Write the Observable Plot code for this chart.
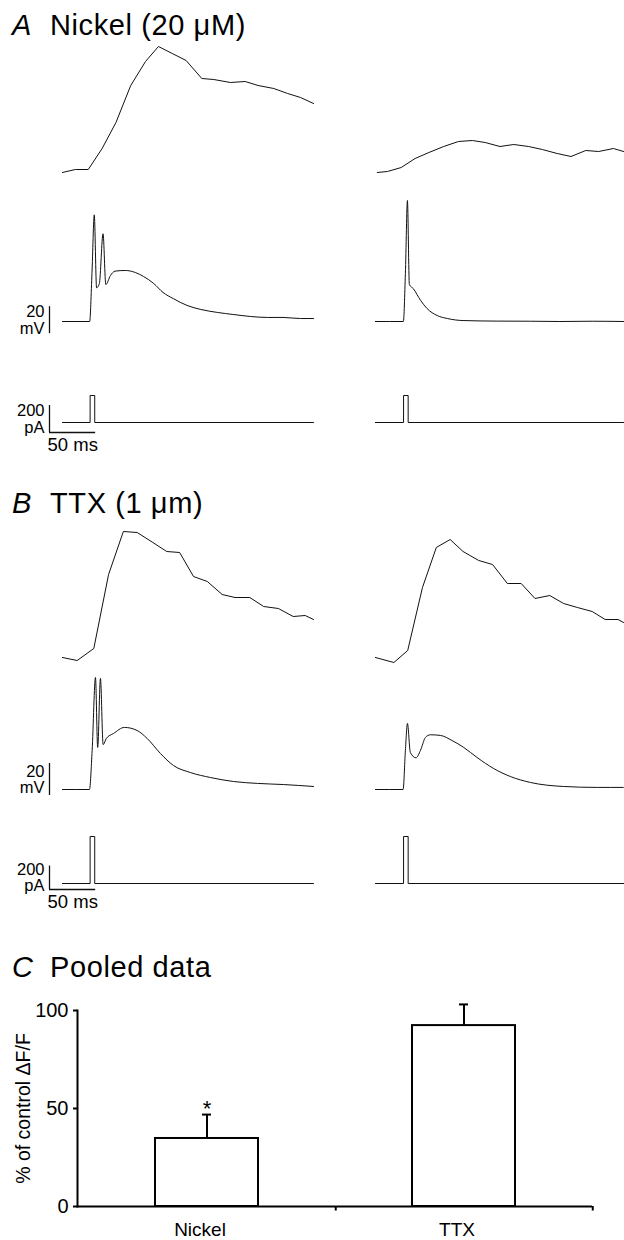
<!DOCTYPE html>
<html><head><meta charset="utf-8">
<script src="https://cdn.jsdelivr.net/npm/d3@7"></script>
<script src="https://cdn.jsdelivr.net/npm/@observablehq/plot@0.6"></script>
<style>
body{margin:0;background:#fff;}
#fig{position:relative;width:624px;height:1240px;overflow:hidden;font-family:"Liberation Sans",Arial,Helvetica,sans-serif;color:#000;background:#fff;}
.cell{position:absolute;}
.cell svg{overflow:visible;background:transparent;}
.title{position:absolute;font-size:29px;line-height:1;white-space:nowrap;letter-spacing:0.6px;}
.panel{position:absolute;font-size:29px;line-height:1;font-style:italic;}
</style></head>
<body><div id="fig"></div>
<script>
// ---------------- data ----------------
// time in ms, fluorescence in % dF/F, voltage in mV from rest, current in pA
const tF_AL = [0, 14, 28, 43, 58, 74, 90, 104, 119, 134, 151, 164, 182, 198, 212, 229, 244, 258, 272];
const fA_L  = [0, 0.6, 0.6, 4.8, 10, 17.4, 22.2, 25.2, 23.8, 22.4, 18.8, 18.6, 18, 18.2, 17.4, 16.8, 15.8, 15, 13.8];
const tF_AR = [2, 13, 28, 43, 58, 74, 90, 105, 119, 135, 150, 166, 181, 197, 212, 228, 242, 258, 269];
const fA_R  = [0, 0.2, 1, 2.8, 4, 5.2, 6.2, 6.4, 6, 5.2, 5.6, 5.2, 4.6, 3.8, 3.2, 4.4, 4.2, 4.8, 4.2];
const tF_BL = [0, 16, 34, 50, 66, 81, 98, 113, 127, 142, 157, 173, 187, 203, 218, 234, 250, 263, 272];
const fB_L  = [0, -0.6, 1.8, 16.6, 25.2, 25, 23, 21.2, 21, 16.2, 15.2, 12.6, 12, 12, 10.2, 9.8, 8.2, 8.4, 7.6];
const tF_BR = [0, 20, 35, 51, 66, 81, 95, 112, 127, 143, 158, 173, 189, 204, 219, 235, 249, 263, 269];
const fB_R  = [0, -1, 1.4, 14, 22, 23.6, 21.2, 19.4, 18.6, 14.8, 14.8, 11.8, 12.4, 10.8, 10, 9.2, 7.6, 7.6, 7];

const tV_AL = [0, 29.5, 32, 34.5, 37, 40, 44, 47, 52, 57, 68, 79, 88, 99, 109, 120, 135, 150, 168, 185, 204, 222, 239, 258, 272];
const vA_L  = [0, 0, 35.5, 79, 25, 28, 65, 27.4, 34, 37.3, 37.8, 36.3, 33.3, 28.1, 21.5, 17, 11.9, 8.9, 6.7, 5.2, 3.7, 3, 3, 2.2, 2.2];
const tV_AR = [0, 30.3, 32.5, 34.7, 36.8, 41, 49, 56, 67, 78, 95, 132, 168, 200, 235, 269];
const vA_R  = [0, 0, 35.6, 89.6, 27.4, 24.4, 15.6, 9.6, 4.4, 2.2, 0.7, 0.3, 0.2, 0, 0.2, 0];
const tV_BL = [0, 29.3, 32.2, 35.8, 38.2, 41.2, 44.1, 47.7, 55.3, 67.2, 80.9, 91.8, 106.2, 120.3, 138.7, 160.3, 185.3, 211.3, 239.4, 272];
const vB_L  = [0, 0, 24.4, 70, 26.3, 69.4, 28.1, 32, 35, 38.8, 36.9, 31.9, 22.5, 15, 10.6, 7.5, 5, 3.8, 3.1, 1.9];
const tV_BR = [0, 30, 32.5, 34.7, 37.9, 44, 48.8, 54.2, 59.6, 70.4, 83.1, 95.7, 110.2, 128.2, 146.3, 168, 203.7, 240.5, 268.7];
const vB_R  = [0, 0, 24.4, 41.3, 23.1, 19.8, 24.4, 32.5, 34.2, 33.8, 30.6, 26.3, 20, 13.1, 8.1, 4.4, 1.9, 1.3, 1.3];

const tI_L = [0, 30, 30, 35, 35, 272];
const tI_R = [0, 30.5, 30.5, 35.5, 35.5, 269];
const iA   = [0, 0, 200, 200, 0, 0];
const iB   = [0, 0, 400, 400, 0, 0];

const barMV = 20, barPA = 200, barMS = 50;

const categories = ["Nickel", "TTX"];
const means = [34.7, 92.3];
const sems  = [12.2, 10.8];
const signif = ["*", ""];
const yTicks = [0, 50, 100];
const yLabel = "% of control \u0394F/F";

// ---------------- layout helpers ----------------
const FONT = "Liberation Sans, Arial, Helvetica, sans-serif";
const fig = document.getElementById("fig");
const COL = {
  left:  {left: 0,   width: 313, range: [49, 313], domain: [-14, 272]},
  right: {left: 313, width: 311, range: [49, 311], domain: [-14, 270]}
};
function zip(t, v) { return t.map((d, i) => ({t: d, v: v[i]})); }
function trace(t, v, curve = "linear") {
  return Plot.line(zip(t, v), {x: "t", y: "v", stroke: "#111", strokeWidth: 1, curve});
}
function cell(col, top, height, base, k, marks) {
  const c = COL[col];
  const svg = Plot.plot({
    width: c.width, height, margin: 0,
    x: {domain: c.domain, range: c.range},
    y: {domain: [0, 1], range: [base - top, base - top - k]},
    axis: null,
    style: {fontFamily: FONT, fontSize: "17px", background: "transparent", overflow: "visible"},
    marks
  });
  const div = document.createElement("div");
  div.className = "cell";
  Object.assign(div.style, {left: c.left + "px", top: top + "px", width: c.width + "px", height: height + "px"});
  div.appendChild(svg);
  fig.appendChild(div);
}
function vBar(lo) {
  const d = [{t: COL.left.domain[0], lo, hi: lo + barMV, mid: lo + barMV / 2, label: barMV + "\nmV"}];
  return [
    Plot.ruleX(d, {x: "t", y1: "lo", y2: "hi", stroke: "#111", strokeWidth: 1.3}),
    Plot.text(d, {x: "t", y: "mid", text: "label", textAnchor: "end", dx: -5, fontSize: 16.5, lineHeight: 1})
  ];
}
function iBar(lo) {
  const t0 = COL.left.domain[0];
  const d = [{t: t0, t2: t0 + barMS, lo, hi: lo + barPA, mid: lo + barPA / 2, label: barPA + "\npA", ms: barMS + " ms"}];
  return [
    Plot.ruleX(d, {x: "t", y1: "lo", y2: "hi", stroke: "#111", strokeWidth: 1.3}),
    Plot.ruleY(d, {y: "lo", x1: "t", x2: "t2", stroke: "#111", strokeWidth: 1.3}),
    Plot.text(d, {x: "t", y: "mid", text: "label", textAnchor: "end", dx: -5, fontSize: 16.5, lineHeight: 1}),
    Plot.text(d, {x: "t", y: "lo", text: "ms", textAnchor: "start", lineAnchor: "top", dx: -2, dy: 5, fontSize: 18.5})
  ];
}
function title(letter, text, baseline) {
  const a = document.createElement("div");
  a.className = "panel"; a.textContent = letter;
  a.style.left = "12px"; a.style.top = (baseline - 24.5) + "px";
  const b = document.createElement("div");
  b.className = "title"; b.textContent = text;
  b.style.left = "50px"; b.style.top = (baseline - 24.5) + "px";
  fig.appendChild(a); fig.appendChild(b);
}

// ---------------- panel A ----------------
title("A", "Nickel (20 \u03bcM)", 35);
cell("left", 30, 150, 172, 5, [trace(tF_AL, fA_L)]);
cell("right", 30, 150, 172, 5, [trace(tF_AR, fA_R)]);
cell("left", 180, 160, 321, 1.35, [trace(tV_AL, vA_L, "monotone-x"), ...vBar(-9)]);
cell("right", 180, 160, 321, 1.35, [trace(tV_AR, vA_R, "monotone-x")]);
cell("left", 380, 75, 422, 0.135, [trace(tI_L, iA), ...iBar(-74)]);
cell("right", 380, 75, 422, 0.135, [trace(tI_R, iA)]);

// ---------------- panel B ----------------
title("B", "TTX (1 \u03bcm)", 513);
cell("left", 515, 150, 657, 5, [trace(tF_BL, fB_L)]);
cell("right", 515, 150, 657, 5, [trace(tF_BR, fB_R)]);
cell("left", 665, 140, 789, 1.6, [trace(tV_BL, vB_L, "monotone-x"), ...vBar(-3.75)]);
cell("right", 665, 140, 789, 1.6, [trace(tV_BR, vB_R, "monotone-x")]);
cell("left", 820, 100, 883, 0.1175, [trace(tI_L, iB), ...iBar(-51)]);
cell("right", 820, 100, 883, 0.1175, [trace(tI_R, iB)]);

// ---------------- panel C ----------------
title("C", "Pooled data", 977);
const bars = categories.map((c, i) => ({cat: c, mean: means[i], top: means[i] + sems[i], sig: signif[i]}));
const barSvg = Plot.plot({
  width: 624, height: 250, marginLeft: 77, marginRight: 32, marginTop: 20, marginBottom: 34,
  x: {type: "band", domain: categories, paddingInner: 0.6, paddingOuter: 0.3},
  y: {domain: [0, 100]},
  style: {fontFamily: FONT, fontSize: "20px", background: "transparent", overflow: "visible"},
  marks: [
    Plot.barY(bars, {x: "cat", y: "mean", fill: "white", stroke: "#000", strokeWidth: 2}),
    Plot.ruleX(bars, {x: "cat", y1: "mean", y2: "top", stroke: "#000", strokeWidth: 2}),
    Plot.tickY(bars, {x: "cat", y: "top", stroke: "#000", strokeWidth: 2, insetLeft: 47, insetRight: 47}),
    Plot.text(bars, {x: "cat", y: "top", text: "sig", dy: -6, fontSize: 22}),
    Plot.ruleY([0], {stroke: "#000", strokeWidth: 2}),
    Plot.frame({anchor: "left", stroke: "#000", strokeWidth: 2}),
    Plot.ruleX(categories, {x: d => d, dx: 128.75, y1: 0, y2: -2.3, stroke: "#000", strokeWidth: 2}),
    Plot.axisY({ticks: yTicks, tickSize: 4, tickPadding: 5, fontSize: 20, label: null, strokeWidth: 2}),
    Plot.axisX({tickSize: 0, tickPadding: 16, fontSize: 19, label: null, dx: -7}),
    Plot.text([yLabel], {frameAnchor: "left", textAnchor: "middle", rotate: -90, dx: -54, fontSize: 19.5, text: d => d})
  ]
});
const bdiv = document.createElement("div");
bdiv.className = "cell";
Object.assign(bdiv.style, {left: "0px", top: "990px", width: "624px", height: "250px"});
bdiv.appendChild(barSvg);
fig.appendChild(bdiv);
</script></body></html>
